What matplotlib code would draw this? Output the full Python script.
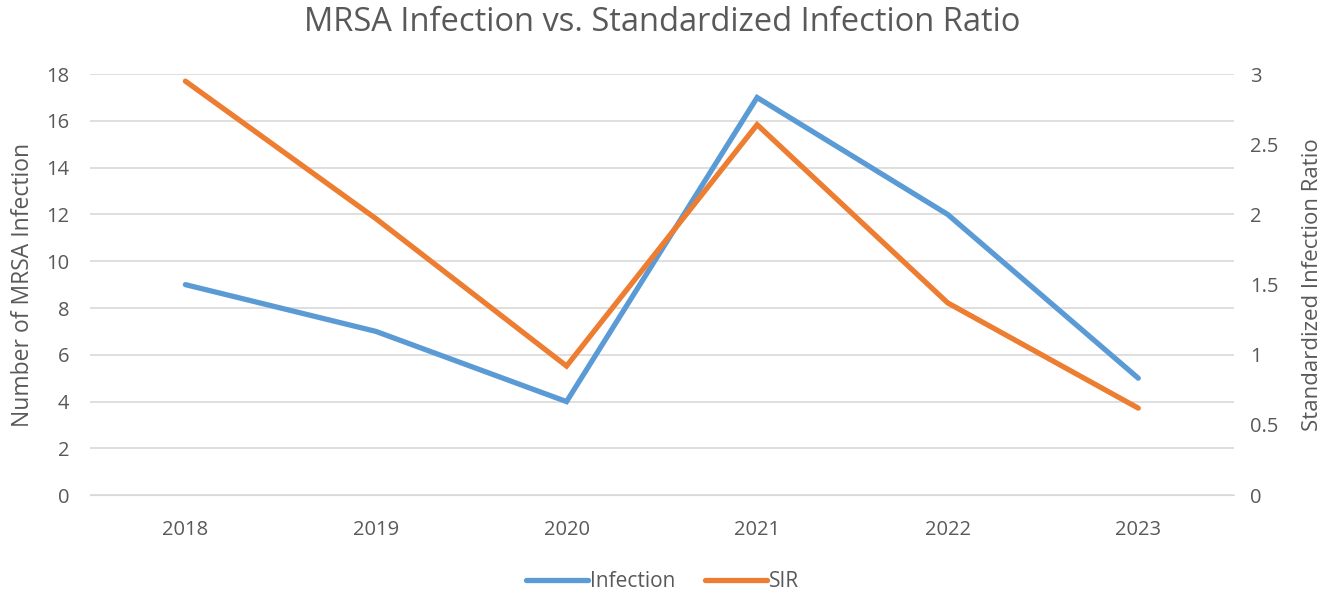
import matplotlib.pyplot as plt

plt.rcParams['font.family'] = ['Open Sans', 'DejaVu Sans']

years = ['2018', '2019', '2020', '2021', '2022', '2023']
infection = [9, 7, 4, 17, 12, 5]
sir = [2.95, 1.97, 0.92, 2.64, 1.37, 0.62]

azul = '#5B9BD5'
naranja = '#ED7D31'
gris_texto = '#595959'
gris_grilla = '#D9D9D9'

fig = plt.figure(figsize=(13.25, 5.93), dpi=100)
ax = fig.add_axes([0.068, 0.165, 0.863, 0.71])
ax2 = ax.twinx()

x = list(range(len(years)))
l1, = ax.plot(x, infection, color=azul, lw=3.8, solid_capstyle='round',
              solid_joinstyle='miter', label='Infection')
l2, = ax2.plot(x, sir, color=naranja, lw=3.8, solid_capstyle='round',
               solid_joinstyle='miter', label='SIR')

ax.set_xlim(-0.5, len(years) - 0.5)
ax.set_ylim(0, 18)
ax.set_yticks(range(0, 19, 2))
ax2.set_ylim(0, 3)
ax2.set_yticks([0, 0.5, 1, 1.5, 2, 2.5, 3])
ax2.set_yticklabels(['0', '0.5', '1', '1.5', '2', '2.5', '3'])
ax.set_xticks(x)
ax.set_xticklabels(years)

# grilla horizontal como en Excel
ax.grid(axis='y', color=gris_grilla, lw=1.2)
ax.set_axisbelow(True)
for a in (ax, ax2):
    for s in a.spines.values():
        s.set_visible(False)
    a.tick_params(length=0, labelsize=14.5, colors=gris_texto)
ax.spines['bottom'].set_visible(True)
ax.spines['bottom'].set_color(gris_grilla)
ax.tick_params(axis='y', pad=15)
ax2.tick_params(axis='y', pad=12)
ax.tick_params(axis='x', pad=18)

ax.set_ylabel('Number of MRSA Infection', fontsize=16.5, color=gris_texto, labelpad=8)
ax2.set_ylabel('Standardized Infection Ratio', fontsize=16, color=gris_texto, labelpad=17)
fig.suptitle('MRSA Infection vs. Standardized Infection Ratio', fontsize=23.5,
             color=gris_texto, y=0.99)

fig.legend(handles=[l1, l2], loc='lower center', ncol=2, frameon=False,
           fontsize=15, labelcolor=gris_texto, bbox_to_anchor=(0.5, -0.03),
           handlelength=3.0, handletextpad=0.1, columnspacing=1.4)

fig.savefig('out.png', dpi=100)
